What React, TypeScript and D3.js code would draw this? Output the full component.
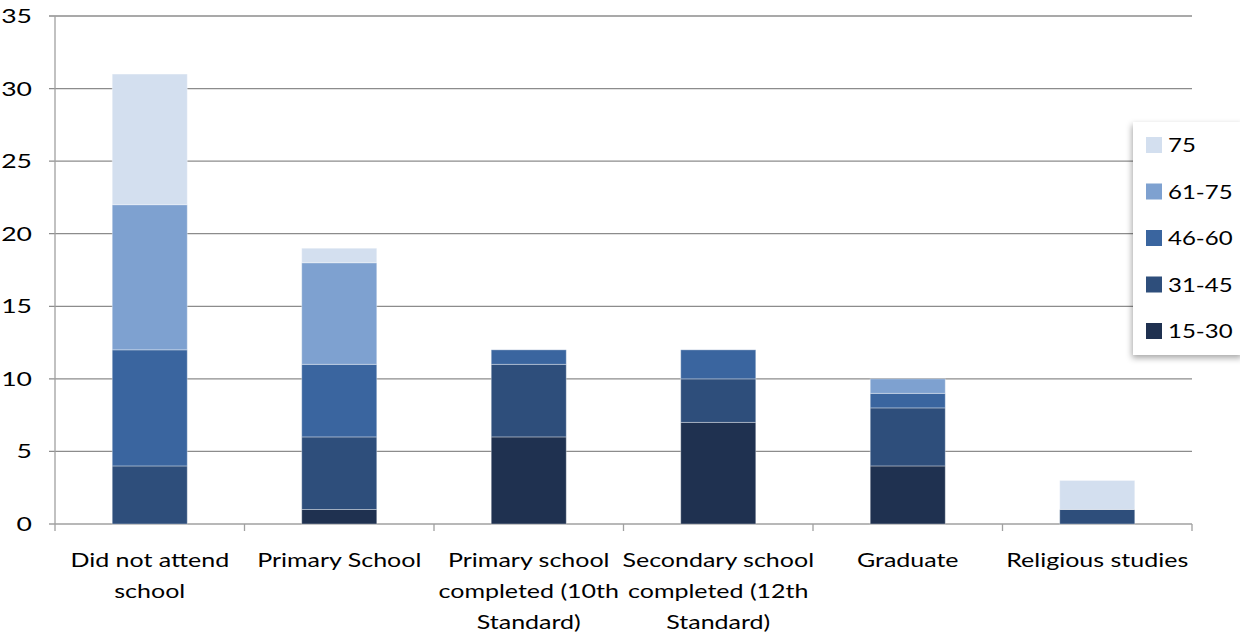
import React from "react";
import * as d3 from "d3";

const categories = [
  ["Did not attend", "school"],
  ["Primary School"],
  ["Primary school", "completed (10th", "Standard)"],
  ["Secondary school", "completed (12th", "Standard)"],
  ["Graduate"],
  ["Religious studies"],
];
const seriesNames = ["15-30", "31-45", "46-60", "61-75", "75"];
const s15_30 = [0, 1, 6, 7, 4, 0];
const s31_45 = [4, 5, 5, 3, 4, 1];
const s46_60 = [8, 5, 1, 2, 1, 0];
const s61_75 = [10, 7, 0, 0, 1, 0];
const s75 = [9, 1, 0, 0, 0, 2];
const seriesValues = [s15_30, s31_45, s46_60, s61_75, s75];
const seriesColors = ["#1f3150", "#2e4e7b", "#3a659f", "#7ea1d0", "#d3dfef"];
const yTicks = [0, 5, 10, 15, 20, 25, 30, 35];

const W = 1240;
const H = 637;
const left = 55;
const right = 1192;
const top = 16;
const bottom = 524;
const FONT = "Lato, 'Open Sans', sans-serif";

function Label({ x, y, anchor, sx, children, size = 20 }: { x: number; y: number; anchor: string; sx: number; children: React.ReactNode; size?: number }) {
  return (
    <g transform={`translate(${x},${y}) scale(${sx},1)`}>
      <text x={0} y={0} textAnchor={anchor} fontSize={size} fill="#000">
        {children}
      </text>
    </g>
  );
}

export default function App() {
  const x = d3
    .scaleBand<number>()
    .domain(d3.range(categories.length))
    .range([left, right])
    .paddingInner(0.604)
    .paddingOuter(0.302);
  const y = d3.scaleLinear().domain([0, 35]).range([bottom, top]);

  const table = categories.map((_, i) => {
    const row: Record<string, number> = {};
    seriesNames.forEach((n, k) => (row[n] = seriesValues[k][i]));
    return row;
  });
  const stacked = d3.stack<Record<string, number>>().keys(seriesNames)(table);
  const step = (right - left) / categories.length;

  return (
    <svg width={W} height={H} style={{ display: "block", position: "absolute", left: 0, top: 0 }} fontFamily={FONT}>
      <defs>
        <filter id="sh" x="-20%" y="-10%" width="140%" height="130%">
          <feDropShadow dx="-1" dy="3" stdDeviation="3" floodColor="#000" floodOpacity="0.35" />
        </filter>
      </defs>
      <rect width={W} height={H} fill="#fff" />
      {yTicks.map((t) => (
        <g key={t}>
          <line x1={left - 6} x2={right} y1={y(t)} y2={y(t)} stroke={t === 0 ? "#a0a0a0" : "#8c8c8c"} strokeWidth={1.3} />
          <Label x={32} y={y(t) + 7} anchor="end" sx={1.33}>
            {t}
          </Label>
        </g>
      ))}
      <line x1={left} x2={left} y1={top} y2={bottom} stroke="#a0a0a0" strokeWidth={1.3} />
      {d3.range(categories.length + 1).map((i) => (
        <line key={i} x1={left + i * step} x2={left + i * step} y1={bottom} y2={bottom + 7} stroke="#a0a0a0" strokeWidth={1.3} />
      ))}
      {stacked.map((layer, k) => (
        <g key={layer.key} fill={seriesColors[k]}>
          {layer.map((d, i) =>
            d[1] - d[0] > 0 ? (
              <rect
                key={i}
                x={x(i)}
                width={x.bandwidth()}
                y={y(d[1])}
                height={y(d[0]) - y(d[1])}
                stroke="#ffffff"
                strokeOpacity={0.35}
                strokeWidth={1}
              />
            ) : null
          )}
        </g>
      ))}
      {categories.map((lines, i) =>
        lines.map((l, j) => (
          <Label key={`${i}-${j}`} x={x(i)! + x.bandwidth() / 2} y={567 + j * 31} anchor="middle" sx={1.25}>
            {l}
          </Label>
        ))
      )}
      <g>
        <rect x={1133} y={122} width={110} height={233} fill="#fff" filter="url(#sh)" />
        {seriesNames
          .slice()
          .reverse()
          .map((n, j) => {
            const k = seriesNames.length - 1 - j;
            const cy = 145 + j * 46.5;
            return (
              <g key={n}>
                <rect x={1146} y={cy - 8} width={16} height={16} fill={seriesColors[k]} />
                <Label x={1168} y={cy + 7} anchor="start" sx={1.2}>
                  {n}
                </Label>
              </g>
            );
          })}
      </g>
    </svg>
  );
}
